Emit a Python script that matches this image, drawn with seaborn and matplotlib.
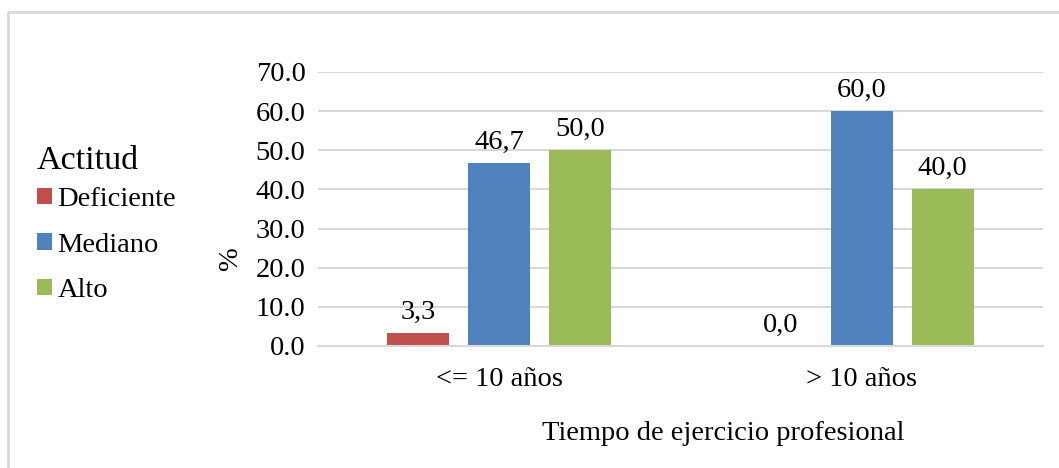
import matplotlib
matplotlib.use("Agg")
import matplotlib.pyplot as plt
from matplotlib.lines import Line2D
from matplotlib.ticker import FormatStrFormatter, MultipleLocator
import seaborn as sns
import pandas as pd

# Percentages by years of professional practice and attitude level
tiempo = ["<= 10 años", "> 10 años"]
actitud = ["Deficiente", "Mediano", "Alto"]
deficiente = [3.3, 0.0]
mediano = [46.7, 60.0]
alto = [50.0, 40.0]

colores = ["#C0504D", "#4F81BD", "#9BBB59"]

series = {"Deficiente": deficiente, "Mediano": mediano, "Alto": alto}
df = pd.DataFrame(
    [(t, a, series[a][i]) for a in actitud for i, t in enumerate(tiempo)],
    columns=["tiempo", "actitud", "pct"],
)

sns.set_theme(style="white")
plt.rcParams["font.family"] = ["Liberation Serif", "DejaVu Serif"]
plt.rcParams["text.color"] = "#000000"
plt.rcParams["axes.labelcolor"] = "#000000"
plt.rcParams["xtick.color"] = "#000000"
plt.rcParams["ytick.color"] = "#000000"

FS = 20.5

fig = plt.figure(figsize=(10.59, 4.68), dpi=100)
ax = fig.add_axes([0.3003, 0.2607, 0.6846, 0.5855])

sns.barplot(
    data=df, x="tiempo", y="pct", hue="actitud",
    order=tiempo, hue_order=actitud, palette=colores,
    width=0.67, gap=0.23, saturation=1, errorbar=None,
    linewidth=0, ax=ax,
)

# value labels with decimal comma
for cont, a in zip(ax.containers, actitud):
    labels = [f"{v:.1f}".replace(".", ",") for v in series[a]]
    ax.bar_label(cont, labels=labels, padding=6, fontsize=FS, color="#000000")

ax.set_xlim(-0.5, 1.5)
ax.set_ylim(0, 70)
ax.yaxis.set_major_locator(MultipleLocator(10))
ax.yaxis.set_major_formatter(FormatStrFormatter("%.1f"))
ax.grid(axis="y", color="#d9d9d9", linewidth=1.5)
ax.set_axisbelow(True)
for s in ["top", "right", "left"]:
    ax.spines[s].set_visible(False)
ax.spines["bottom"].set_color("#d9d9d9")
ax.spines["bottom"].set_linewidth(1.5)
ax.tick_params(axis="y", length=0, pad=9, labelsize=FS, labelcolor="#000000")
ax.tick_params(axis="x", length=0, pad=15, labelsize=FS, labelcolor="#000000")

ax.set_ylabel("%", fontsize=FS, rotation=90)
ax.yaxis.set_label_coords(-0.103, 0.321)
ax.set_xlabel("Tiempo de ejercicio profesional", fontsize=FS)
ax.xaxis.set_label_coords(0.559, -0.272)

# legend on the left side of the figure, title drawn separately
handles, labels = ax.get_legend_handles_labels()
ax.get_legend().remove()
fig.text(37 / 1059, 1 - 169 / 468, "Actitud", fontsize=24.5,
         ha="left", va="baseline", color="#000000")
leg = fig.legend(
    handles, labels, loc="upper left",
    bbox_to_anchor=(0.035, 0.600), frameon=False,
    fontsize=FS, handlelength=0.52, handleheight=0.52, handletextpad=0.2,
    labelspacing=0.72, borderaxespad=0, borderpad=0,
)

# chart area border (top and left edges)
bc = "#d9d9d9"
fig.add_artist(Line2D([8 / 1059, 1.0], [1 - 12 / 468, 1 - 12 / 468], color=bc, linewidth=2))
fig.add_artist(Line2D([8 / 1059, 8 / 1059], [0.0, 1 - 12 / 468], color=bc, linewidth=2))

fig.savefig("out.png", dpi=100)
